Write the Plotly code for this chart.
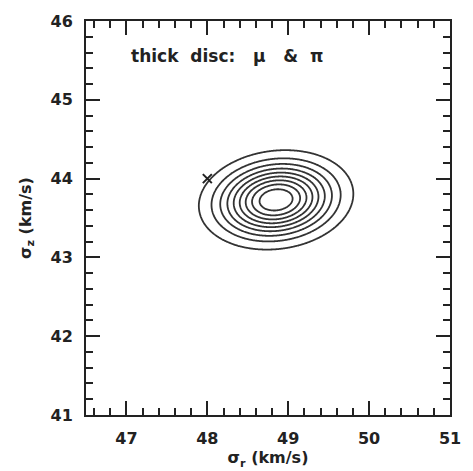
import numpy as np
import plotly.graph_objects as go

# Likelihood surface parameters (thick disc, proper motions & parallaxes)
sigma_r_best = 48.85      # km/s
sigma_z_best = 43.73      # km/s
sigma_r_err = 0.445
sigma_z_err = 0.294
corr_rz = 0.12
contour_levels = [0.1, 0.2, 0.3, 0.4, 0.5, 0.6, 0.7, 0.8, 0.9]

# Input (true) model values
true_sigma_r = [48.0]
true_sigma_z = [44.0]

x_range = [46.5, 51.0]
y_range = [41.0, 46.0]
x_ticks = [47, 48, 49, 50, 51]
y_ticks = [41, 42, 43, 44, 45, 46]

label_text = "thick&nbsp; disc:&nbsp;&nbsp; \u03bc&nbsp;&nbsp; &amp;&nbsp; \u03c0"

# Evaluate the normalised likelihood on a grid
gx = np.linspace(x_range[0], x_range[1], 451)
gy = np.linspace(y_range[0], y_range[1], 451)
X, Y = np.meshgrid(gx, gy)
u = (X - sigma_r_best) / sigma_r_err
v = (Y - sigma_z_best) / sigma_z_err
q = (u**2 - 2 * corr_rz * u * v + v**2) / (1 - corr_rz**2)
L = np.exp(-0.5 * q)

FONT = "DejaVu Sans, Verdana, sans-serif"
INK = "#222"
tick_font = dict(family=FONT, size=16, color=INK, weight="bold")
title_font = dict(family=FONT, size=16, color=INK, weight="bold")

fig = go.Figure()
fig.add_trace(go.Contour(
    x=gx, y=gy, z=L,
    contours=dict(coloring="lines", start=contour_levels[0], end=contour_levels[-1],
                  size=contour_levels[1] - contour_levels[0]),
    colorscale=[[0, "#333"], [1, "#333"]],
    line=dict(width=1.8, smoothing=1.0),
    showscale=False,
    hoverinfo="skip",
))
fig.add_trace(go.Scatter(
    x=true_sigma_r, y=true_sigma_z, mode="markers",
    marker=dict(symbol="x-thin", size=9, line=dict(width=2, color=INK), color=INK),
    showlegend=False,
))

fig.add_annotation(
    x=47.03, y=45.55, xref="x", yref="y", text=label_text, showarrow=False,
    xanchor="left", yanchor="middle",
    font=dict(family=FONT, size=17, color=INK, weight="bold"),
)

axis_common = dict(
    showgrid=False, zeroline=False, showline=True, linecolor=INK, linewidth=2,
    mirror="allticks", ticks="inside", ticklen=14, tickwidth=2, tickcolor=INK,
    tickfont=tick_font, ticklabelstandoff=8,
)

fig.update_xaxes(
    range=x_range, tickvals=x_ticks, ticktext=[str(t) for t in x_ticks],
    minor=dict(ticks="inside", ticklen=7, tickwidth=1.5, tickcolor=INK, dtick=0.2, tick0=46.6),
    title=dict(text="\u03c3<sub>r</sub> (km/s)", font=title_font, standoff=0),
    **axis_common,
)
fig.update_yaxes(
    range=y_range, tickvals=y_ticks, ticktext=[str(t) for t in y_ticks],
    minor=dict(ticks="inside", ticklen=7, tickwidth=1.5, tickcolor=INK, dtick=0.2, tick0=41.0),
    title=dict(text="\u03c3<sub>z</sub> (km/s)", font=title_font, standoff=15),
    **axis_common,
)

fig.update_layout(
    width=473, height=471,
    margin=dict(l=86, r=12, t=16, b=53),
    paper_bgcolor="white", plot_bgcolor="white",
    showlegend=False,
)

fig.write_html("out.html")
